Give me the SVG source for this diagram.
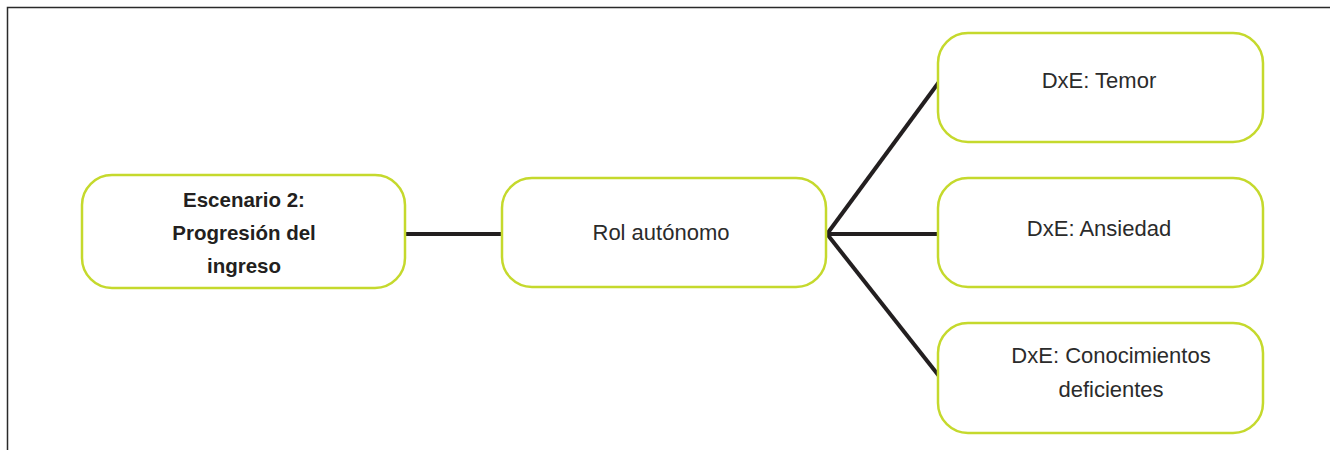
<svg xmlns="http://www.w3.org/2000/svg" width="1330" height="450" viewBox="0 0 1330 450">
  <style>
    .box { fill: #ffffff; stroke: #c5d92d; stroke-width: 2.5; }
    .lbl { font-family: "Liberation Sans", Arial, sans-serif; font-size: 22px; fill: #2b2b2b; text-anchor: middle; }
    .bold { font-weight: bold; font-size: 20.5px; fill: #231f20; }
    .link { stroke: #231f20; stroke-width: 4; fill: none; stroke-linecap: butt; }
    .frame { stroke: #2a2a2a; stroke-width: 1.5; fill: none; }
  </style>
  <rect width="1330" height="450" fill="#ffffff"/>

  <!-- page frame -->
  <path class="frame" d="M7.5,450 V7.5 H1330"/>

  <!-- connectors -->
  <g id="connectors">
    <line class="link" x1="406" y1="234" x2="502" y2="234"/>
    <line class="link" x1="827" y1="234" x2="939" y2="82"/>
    <line class="link" x1="827" y1="234" x2="939" y2="234"/>
    <line class="link" x1="827" y1="234" x2="939" y2="376"/>
  </g>

  <g id="escenario">
    <rect class="box" x="82" y="175" width="323" height="113" rx="30"/>
    <text class="lbl bold" x="244" y="207">Escenario 2:</text>
    <text class="lbl bold" x="244" y="240">Progresión del</text>
    <text class="lbl bold" x="244" y="273">ingreso</text>
  </g>

  <g id="rol">
    <rect class="box" x="502" y="178" width="324" height="109" rx="30"/>
    <text class="lbl" x="661" y="240">Rol autónomo</text>
  </g>

  <g id="temor">
    <rect class="box" x="938" y="33" width="325" height="109" rx="30"/>
    <text class="lbl" x="1099" y="88">DxE: Temor</text>
  </g>

  <g id="ansiedad">
    <rect class="box" x="938" y="178" width="325" height="109" rx="30"/>
    <text class="lbl" x="1099" y="236">DxE: Ansiedad</text>
  </g>

  <g id="conocimientos">
    <rect class="box" x="938" y="323" width="325" height="110" rx="30"/>
    <text class="lbl" x="1111" y="363">DxE: Conocimientos</text>
    <text class="lbl" x="1111" y="397">deficientes</text>
  </g>
</svg>
